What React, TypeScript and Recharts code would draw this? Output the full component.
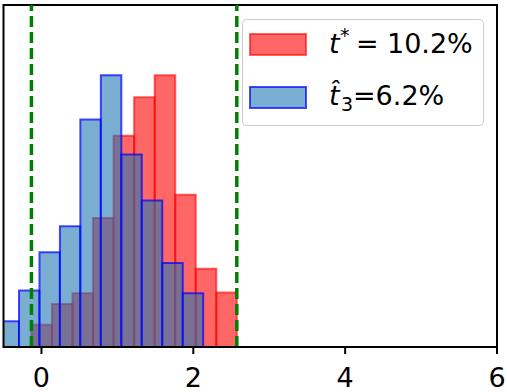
import React from 'react';
import { ComposedChart, XAxis, YAxis, Line, ReferenceArea, ReferenceLine } from 'recharts';

// bin edges and densities
const redEdges = [-0.132, 0.139, 0.409, 0.68, 0.95, 1.221, 1.491, 1.762, 2.032, 2.303, 2.573];
const redDensity = [0.065, 0.125, 0.157, 0.376, 0.616, 0.728, 0.792, 0.444, 0.228, 0.159];
const blueEdges = [-0.566, -0.296, -0.026, 0.243, 0.512, 0.782, 1.052, 1.321, 1.591, 1.861, 2.13];
const blueDensity = [0.075, 0.165, 0.276, 0.352, 0.663, 0.792, 0.561, 0.427, 0.245, 0.157];
const bounds = [-0.132, 2.573];
const xTicks = [0, 2, 4, 6];
const xDomain = [-0.5, 6];
const yDomain = [0, 0.997];

const FONT = 'DejaVu Sans';

// anchor rows so the axes have something to scale against
const table = redDensity.map((d, i) => ({ x: redEdges[i], red: d }));

const Legend = () => (
  <svg width={507} height={392} style={{ position: 'absolute', left: 0, top: 0, pointerEvents: 'none' }}>
    <rect x={242.5} y={19.5} width={241} height={106} rx={4} fill="#fff" fillOpacity={0.8} stroke="#ccc" strokeWidth={1} />
    <rect x={250} y={34} width={56} height={21} fill="#ff0000" fillOpacity={0.6} stroke="#ff0000" strokeOpacity={0.6} strokeWidth={2} />
    <rect x={250} y={87} width={56} height={21} fill="#1f77b4" fillOpacity={0.6} stroke="#0000ff" strokeOpacity={0.7} strokeWidth={2} />
    <text y={53} fontSize={27} fontFamily={FONT} fill="#000">
      <tspan x={329} fontStyle="italic">t</tspan>
      <tspan x={340} dy={-11} fontSize={19}>*</tspan>
      <tspan x={356} dy={11}>=</tspan>
      <tspan x={387}>10.2%</tspan>
    </text>
    <text y={105} fontSize={27} fontFamily={FONT} fill="#000">
      <tspan x={329} fontStyle="italic">{'t\u0302'}</tspan>
      <tspan x={341} dy={6} fontSize={19}>3</tspan>
      <tspan x={353} dy={-6}>=6.2%</tspan>
    </text>
  </svg>
);

export default function App() {
  return (
    <div style={{ position: 'relative', width: 507, height: 392 }}>
      <style>{'body{margin:0}'}</style>
      <ComposedChart width={507} height={392} data={table} margin={{ top: 5, right: 10, left: 3.5, bottom: 4 }}>
        <XAxis
          dataKey="x"
          type="number"
          domain={xDomain}
          ticks={xTicks}
          allowDataOverflow
          height={41}
          axisLine={{ stroke: '#000', strokeWidth: 2 }}
          tickLine={{ stroke: '#000', strokeWidth: 2 }}
          tickSize={7}
          tickMargin={14}
          tick={{ fontSize: 27, fill: '#000', fontFamily: FONT }}
        />
        <YAxis type="number" domain={yDomain} allowDataOverflow hide />
        <Line dataKey="red" stroke="none" dot={false} activeDot={false} legendType="none" isAnimationActive={false} />
        {redDensity.map((d, i) => (
          <ReferenceArea
            key={'r' + i}
            x1={redEdges[i]}
            x2={redEdges[i + 1]}
            y1={0}
            y2={d}
            ifOverflow="hidden"
            fill="#ff0000"
            fillOpacity={0.6}
            stroke="#ff0000"
            strokeOpacity={0.6}
            strokeWidth={2}
          />
        ))}
        {blueDensity.map((d, i) => (
          <ReferenceArea
            key={'b' + i}
            x1={blueEdges[i]}
            x2={blueEdges[i + 1]}
            y1={0}
            y2={d}
            ifOverflow="hidden"
            fill="#1f77b4"
            fillOpacity={0.6}
            stroke="#0000ff"
            strokeOpacity={0.7}
            strokeWidth={2}
          />
        ))}
        {bounds.map((b) => (
          <ReferenceLine key={b} x={b} stroke="#008000" strokeWidth={3.5} strokeDasharray="11 5" />
        ))}
        {/* axes frame */}
        <ReferenceArea
          x1={xDomain[0]}
          x2={xDomain[1]}
          y1={yDomain[0]}
          y2={yDomain[1]}
          ifOverflow="visible"
          fill="none"
          stroke="#000"
          strokeWidth={2}
        />
      </ComposedChart>
      <Legend />
    </div>
  );
}
